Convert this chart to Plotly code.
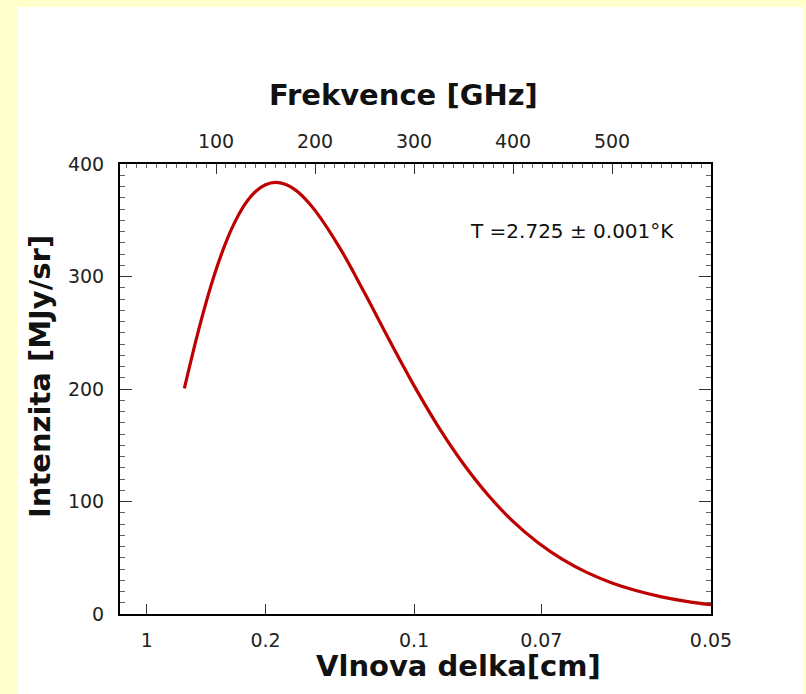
import plotly.graph_objects as go

# Values
freq_ghz = [68, 80, 90, 100, 110, 120, 130, 140, 150, 160, 170, 180, 190, 200,
            225, 250, 275, 300, 325, 350, 375, 400, 425, 450, 475, 500, 525,
            550, 575, 600]
intensity = [200.5, 244.1, 277.0, 305.9, 330.4, 350.1, 365.2, 375.6, 381.6,
             383.7, 381.9, 377.0, 369.1, 358.8, 325.5, 285.5, 243.5, 203.0,
             165.9, 133.3, 105.5, 82.3, 63.6, 48.6, 36.8, 27.6, 20.6, 15.2,
             11.2, 8.2]

wavelength_labels = ["1", "0.2", "0.1", "0.07", "0.05"]
wavelength_cm = [1.0, 0.2, 0.1, 0.07, 0.05]
freq_ticks = [100, 200, 300, 400, 500]
y_ticks = [0, 100, 200, 300, 400]
annotation_text = "T =2.725 \u00b1 0.001\u00b0K"
title_top = "Frekvence [GHz]"
title_bottom = "Vlnova delka[cm]"
title_left = "Intenzita [MJy/sr]"

C_CM_GHZ = 30.0  # c in cm*GHz
wl_positions = [C_CM_GHZ / w for w in wavelength_cm]

W, H = 806, 694
L, R, T, B = 120, 711, 164, 614
pw, ph = R - L, B - T


def px(xp):
    return (xp - L) / pw


def py(yp):
    return (B - yp) / ph


fig = go.Figure()
fig.add_trace(go.Scatter(
    x=freq_ghz, y=intensity, mode="lines", line=dict(color="#BE0000", width=3.2, shape="spline"),
    xaxis="x2", yaxis="y", hoverinfo="skip", showlegend=False))
fig.add_trace(go.Scatter(
    x=[freq_ghz[0], freq_ghz[-1]], y=[intensity[0], intensity[-1]], mode="lines",
    line=dict(width=0, color="rgba(0,0,0,0)"), xaxis="x", yaxis="y",
    hoverinfo="skip", showlegend=False))

tick_font = dict(family="DejaVu Sans, Verdana, sans-serif", size=19, color="#222")
title_font = dict(family="DejaVu Sans, sans-serif", size=29, color="#111")

xrange = [3, 600]

fig.update_layout(
    width=W, height=H,
    margin=dict(l=L, r=W - R, t=T, b=H - B, pad=0),
    paper_bgcolor="#FFFFCC",
    plot_bgcolor="white",
    showlegend=False,
    xaxis=dict(
        range=xrange, tickmode="array", tickvals=wl_positions, ticktext=wavelength_labels,
        ticks="inside", ticklen=10, tickwidth=1, tickcolor="#333",
        showline=True, linecolor="black", linewidth=2, mirror=False,
        showgrid=False, zeroline=False, tickfont=tick_font, ticklabelstandoff=8,
    ),
    xaxis2=dict(
        range=xrange, overlaying="x", side="top", tickmode="array", tickvals=freq_ticks,
        ticks="inside", ticklen=10, tickwidth=1, tickcolor="#333",
        minor=dict(dtick=10, tick0=0, ticks="inside", ticklen=4, tickcolor="#666", showgrid=False),
        showline=True, linecolor="black", linewidth=2,
        showgrid=False, zeroline=False, tickfont=tick_font, ticklabelstandoff=6,
    ),
    yaxis=dict(
        range=[0, 400], tickmode="array", tickvals=y_ticks,
        ticks="inside", ticklen=12, tickwidth=1, tickcolor="#333",
        minor=dict(dtick=10, tick0=0, ticks="inside", ticklen=5, tickcolor="#666", showgrid=False),
        showline=True, linecolor="black", linewidth=2, mirror="ticks",
        showgrid=False, zeroline=False, tickfont=tick_font, ticklabelstandoff=10,
    ),
    shapes=[dict(
        type="rect", xref="paper", yref="paper", layer="below",
        x0=px(17), x1=px(803), y0=py(694), y1=py(7),
        fillcolor="white", line=dict(width=0))],
    annotations=[
        dict(text=annotation_text, xref="paper", yref="paper",
             x=px(572), y=py(231), showarrow=False,
             font=dict(family="DejaVu Sans, Verdana, sans-serif", size=20, color="#111"),
             xanchor="center", yanchor="middle"),
        dict(text="<b>" + title_top + "</b>", xref="paper", yref="paper",
             x=px(403), y=py(95), showarrow=False, font=title_font,
             xanchor="center", yanchor="middle"),
        dict(text="<b>" + title_bottom + "</b>", xref="paper", yref="paper",
             x=px(458), y=py(666), showarrow=False, font=title_font,
             xanchor="center", yanchor="middle"),
        dict(text="<b>" + title_left + "</b>", xref="paper", yref="paper",
             x=px(40), y=py(377), showarrow=False, font=title_font, textangle=-90,
             xanchor="center", yanchor="middle"),
    ],
)

fig.write_html("out.html")
